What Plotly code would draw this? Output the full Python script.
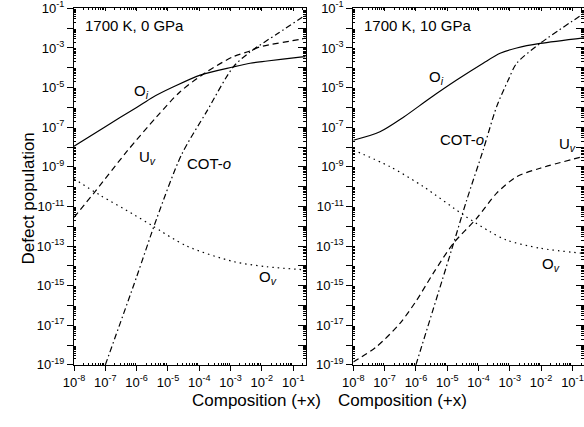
import plotly.graph_objects as go

# ---------------- data ----------------
# Left panel: 1700 K, 0 GPa
L_oi_x = [1e-8, 1e-7, 1e-6, 3.3e-6, 1.45e-5, 1.07e-4, 1.2e-3, 4.2e-3, 1.48e-2, 1.66e-1, 2.5e-1]
L_oi_y = [1.1e-8, 1.07e-7, 1.0e-6, 3.3e-6, 1.07e-5, 4.3e-5, 1.1e-4, 1.7e-4, 2.2e-4, 3.5e-4, 3.7e-4]

L_uv_x = [1e-8, 4.7e-8, 4.8e-7, 4.4e-6, 2.45e-5, 1.74e-4, 1.2e-3, 4.2e-3, 8.9e-3, 1.66e-1, 2.5e-1]
L_uv_y = [2.8e-12, 5.6e-11, 5.8e-9, 3.4e-7, 6.2e-6, 6.3e-5, 3.6e-4, 7.1e-4, 1.15e-3, 2.75e-3, 3.2e-3]

L_cot_x = [1e-7, 1e-6, 4.4e-6, 2.7e-5, 1.74e-4, 1.23e-3, 4.2e-3, 3.2e-2, 2.5e-1]
L_cot_y = [1e-19, 2.8e-15, 2.5e-12, 4.0e-9, 6.3e-7, 1.12e-4, 6.3e-4, 5.4e-3, 4.6e-2]

L_ov_x = [1e-8, 6.8e-8, 7.9e-7, 3.0e-6, 4.0e-5, 1.23e-3, 1.41e-2, 2.5e-1]
L_ov_y = [2.5e-10, 3.7e-11, 4.0e-12, 1.12e-12, 1.0e-13, 1.66e-14, 9.1e-15, 6.3e-15]

# Right panel: 1700 K, 10 GPa
R_oi_x = [1e-8, 7.1e-8, 4.0e-7, 2.8e-6, 2.0e-5, 1.41e-4, 4.9e-4, 1.66e-3, 9.3e-3, 2.5e-1]
R_oi_y = [2.2e-8, 5.9e-8, 3.2e-7, 2.9e-6, 2.4e-5, 1.7e-4, 5.4e-4, 1.0e-3, 1.7e-3, 3.3e-3]

R_cot_x = [1e-6, 1.38e-5, 4.2e-5, 1.41e-4, 3.8e-4, 8.9e-4, 1.66e-3, 9.3e-3, 2.5e-1]
R_cot_y = [1e-19, 6.5e-14, 2.1e-11, 7.1e-9, 1.1e-6, 2.4e-5, 1.7e-4, 1.7e-3, 6.0e-2]

R_uv_x = [1e-8, 5.6e-8, 3.1e-7, 1.07e-6, 3.6e-6, 1.58e-5, 8.7e-5, 3.8e-4, 1.66e-3, 9.3e-3, 2.5e-1]
R_uv_y = [1.4e-19, 8.5e-19, 1.26e-17, 1.9e-16, 4.3e-15, 1.38e-13, 2.5e-12, 4.7e-11, 3.2e-10, 8.5e-10, 3.5e-9]

R_ov_x = [1e-8, 1.48e-7, 1.74e-6, 3.5e-5, 2.3e-4, 7.9e-4, 9.3e-3, 2.5e-1]
R_ov_y = [7.1e-9, 1.02e-9, 1.0e-10, 3.5e-12, 5.4e-13, 2.0e-13, 7.8e-14, 4.2e-14]

x_exps = [-8, -7, -6, -5, -4, -3, -2, -1]
y_exps = list(range(-1, -20, -1))

panel_titles = ["1700 K, 0 GPa", "1700 K, 10 GPa"]
x_title = "Composition (+x)"
y_title = "Defect population"

# ---------------- styling ----------------
FONT = "Liberation Sans, Arial, sans-serif"
BLACK = "black"
LW = 1.2
STY = {
    "oi": dict(color=BLACK, width=LW),
    "uv": dict(color=BLACK, width=LW, dash="6px,4px"),
    "cot": dict(color=BLACK, width=LW, dash="6px,3px,1.5px,3px"),
    "ov": dict(color=BLACK, width=LW, dash="1.5px,4px"),
}

x_tickvals = [10.0 ** e for e in x_exps]
x_ticktext = ["10<sup>%d</sup>" % e for e in x_exps]
y_tickvals = [10.0 ** e for e in y_exps]
y_ticktext = [("10<sup>%d</sup>" % e) if e % 2 else "" for e in y_exps]

x_minor = [k * 10.0 ** e for e in range(-9, 0) for k in range(2, 10)]
y_minor = [k * 10.0 ** e for e in range(-20, 0) for k in range(2, 10)]

fig = go.Figure()


def add(x, y, key, xa, ya):
    fig.add_trace(go.Scatter(x=x, y=y, mode="lines", line=dict(STY[key], shape="spline", smoothing=0.8),
                             xaxis=xa, yaxis=ya, showlegend=False, hoverinfo="skip"))


add(L_oi_x, L_oi_y, "oi", "x", "y")
add(L_uv_x, L_uv_y, "uv", "x", "y")
add(L_cot_x, L_cot_y, "cot", "x", "y")
add(L_ov_x, L_ov_y, "ov", "x", "y")
add(R_oi_x, R_oi_y, "oi", "x2", "y2")
add(R_uv_x, R_uv_y, "uv", "x2", "y2")
add(R_cot_x, R_cot_y, "cot", "x2", "y2")
add(R_ov_x, R_ov_y, "ov", "x2", "y2")

# dummy traces so the top/right overlay axes are drawn
for xa, ya in (("x3", "y3"), ("x4", "y4")):
    fig.add_trace(go.Scatter(x=[], y=[], xaxis=xa, yaxis=ya, showlegend=False, hoverinfo="skip"))

W, H = 584, 427


def px_x(X):
    return X / W


def px_y(Y):
    return 1 - Y / H


XR_L = [-8, -0.6]
XR_R = [-8, -0.63]
YR = [-19.004, -0.996]
XD_L = [px_x(74), px_x(305.7)]
XD_R = [px_x(353.3), 1.0]
YD = [px_y(365), px_y(8.3)]

tickfont = dict(family=FONT, size=13, color=BLACK)

common_x = dict(type="log", showgrid=False, zeroline=False, showline=True, linecolor=BLACK, linewidth=1,
                tickvals=x_tickvals, tickcolor=BLACK, tickwidth=1, automargin=False,
                ticklabeloverflow="allow")
common_y = dict(type="log", showgrid=False, zeroline=False, showline=True, linecolor=BLACK, linewidth=1,
                tickvals=y_tickvals, tickcolor=BLACK, tickwidth=1, range=YR, domain=YD, automargin=False,
                ticklabeloverflow="allow")

bottom = dict(common_x, ticks="outside", ticklen=5, ticktext=x_ticktext, tickfont=tickfont,
              minor=dict(tickvals=x_minor, ticks="inside", ticklen=2, tickcolor=BLACK, showgrid=False))
top = dict(common_x, ticks="inside", ticklen=3, showticklabels=False, side="top",
           minor=dict(tickvals=x_minor, ticks="inside", ticklen=2, tickcolor=BLACK, showgrid=False))
left = dict(common_y, ticks="outside", ticklen=6, ticktext=y_ticktext, tickfont=tickfont,
            minor=dict(tickvals=y_minor, ticks="inside", ticklen=2, tickcolor=BLACK, showgrid=False))
right = dict(common_y, ticks="inside", ticklen=8, showticklabels=False, side="right",
             minor=dict(tickvals=y_minor, ticks="inside", ticklen=3, tickcolor=BLACK, showgrid=False))

fig.update_layout(
    width=W, height=H, autosize=False,
    margin=dict(l=0, r=0, t=0, b=0, pad=0),
    paper_bgcolor="white", plot_bgcolor="white",
    font=dict(family=FONT, color=BLACK),
    hovermode=False,
    xaxis=dict(bottom, domain=XD_L, range=XR_L, anchor="y"),
    yaxis=dict(left, anchor="x"),
    xaxis2=dict(bottom, domain=XD_R, range=XR_R, anchor="y2"),
    yaxis2=dict(left, anchor="x2"),
    xaxis3=dict(top, domain=XD_L, range=XR_L, anchor="y3", overlaying="x"),
    yaxis3=dict(right, anchor="x3", overlaying="y"),
    xaxis4=dict(top, domain=XD_R, range=XR_R, anchor="y4", overlaying="x2"),
    yaxis4=dict(right, anchor="x4", overlaying="y2"),
)

lab = dict(family=FONT, size=15, color=BLACK)
ann = []
# panel titles
ann.append(dict(x=-7.72, y=-1.88, xref="x", yref="y", text=panel_titles[0], showarrow=False,
                xanchor="left", yanchor="middle", font=dict(family=FONT, size=15, color=BLACK)))
ann.append(dict(x=-7.73, y=-1.88, xref="x2", yref="y2", text=panel_titles[1], showarrow=False,
                xanchor="left", yanchor="middle", font=dict(family=FONT, size=15, color=BLACK)))
# curve labels
for (x, y, t, xr, yr) in [
    (-6.16, -5.2, "O<sub><i>i</i></sub>", "x", "y"),
    (-6.0, -8.55, "U<sub><i>v</i></sub>", "x", "y"),
    (-4.46, -8.82, "COT-<i>o</i>", "x", "y"),
    (-2.17, -14.6, "O<sub><i>v</i></sub>", "x", "y"),
    (-5.66, -4.5, "O<sub><i>i</i></sub>", "x2", "y2"),
    (-5.28, -7.61, "COT-<i>o</i>", "x2", "y2"),
    (-1.5, -7.87, "U<sub><i>v</i></sub>", "x2", "y2"),
    (-2.03, -13.93, "O<sub><i>v</i></sub>", "x2", "y2"),
]:
    ann.append(dict(x=x, y=y, xref=xr, yref=yr, text=t, showarrow=False, xanchor="left",
                    yanchor="middle", font=lab))

# axis titles
ann.append(dict(x=px_x(189.8), y=px_y(412), xref="paper", yref="paper", text=x_title,
                showarrow=False, font=dict(family=FONT, size=17, color=BLACK)))
ann.append(dict(x=px_x(469), y=px_y(412), xref="paper", yref="paper", text=x_title,
                showarrow=False, font=dict(family=FONT, size=17, color=BLACK)))
ann.append(dict(x=px_x(16), y=px_y(199), xref="paper", yref="paper", text=y_title, textangle=-90,
                showarrow=False, font=dict(family=FONT, size=17, color=BLACK)))

fig.update_layout(annotations=ann)
# remove the page's default 8px body margin so the figure fills the window
fig.write_html("out.html", config={"displayModeBar": False, "staticPlot": True},
               post_script="document.body.style.margin='0px';")
